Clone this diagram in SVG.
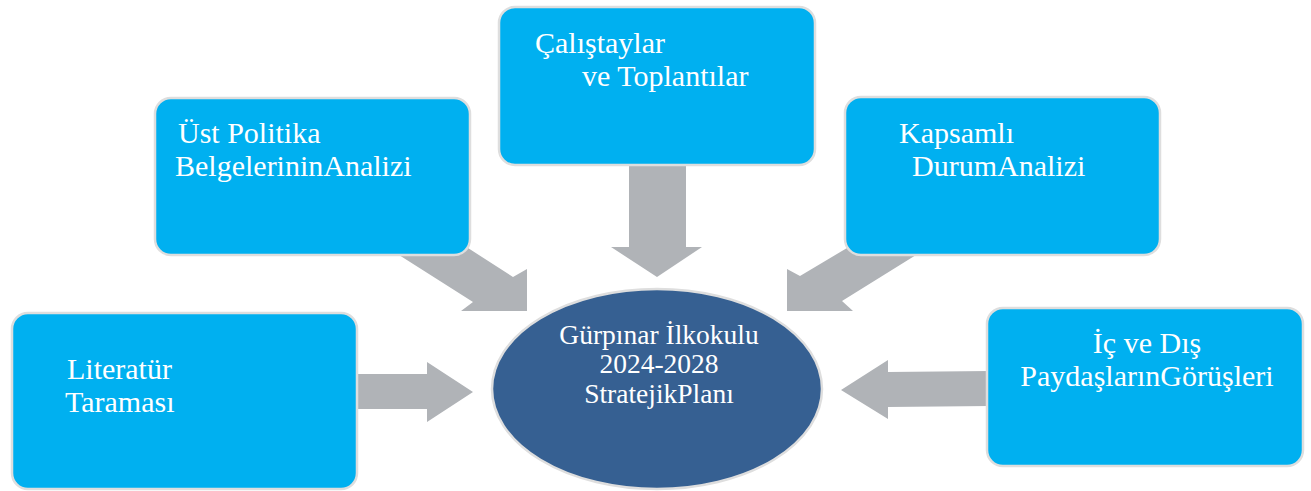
<svg xmlns="http://www.w3.org/2000/svg" width="1311" height="491" viewBox="0 0 1311 491">
<style>
.box{fill:#00b0f0;stroke:#dedede;stroke-width:2.5}
.ell{fill:#366092;stroke:#dedede;stroke-width:2.5}
.arr{fill:#b0b3b7}
.t{font-family:"Liberation Serif","Times New Roman",serif;font-size:30px;fill:#ffffff}
.c{font-family:"Liberation Serif","Times New Roman",serif;font-size:27.5px;fill:#ffffff;text-anchor:middle}
</style>
<rect width="1311" height="491" fill="#ffffff"/>
<g id="connectors">
  <polygon class="arr" points="629,160 686,160 686,247 702,247 657,277 611,247 629,247"/>
  <polygon class="arr" points="440,230 468,248 513,277 527,269 527,311 461,311 473,302 399,255 390,245"/>
  <polygon class="arr" points="875,230 847,248 800,276 787,269 787,311 853,311 842,301 916,255 925,240"/>
  <polygon class="arr" points="357,374 427,374 427,362 473,392 427,422 427,409 357,409"/>
  <polygon class="arr" points="990,371 888,372 888,360 841,390 888,419 888,407 990,406"/>
</g>
<g id="node-ust">
  <rect class="box" x="155" y="98" width="315" height="157" rx="16"/>
  <text class="t" x="178" y="143">Üst Politika</text>
  <text class="t" x="175" y="176">BelgelerininAnalizi</text>
</g>
<g id="node-calistay">
  <rect class="box" x="499" y="7" width="316" height="158" rx="16"/>
  <text class="t" x="535" y="53">Çalıştaylar</text>
  <text class="t" x="582" y="86">ve Toplantılar</text>
</g>
<g id="node-kapsamli">
  <rect class="box" x="845" y="97" width="315" height="158" rx="16"/>
  <text class="t" x="899" y="143">Kapsamlı</text>
  <text class="t" x="912" y="176">DurumAnalizi</text>
</g>
<g id="node-literatur">
  <rect class="box" x="12" y="313" width="345" height="176" rx="16"/>
  <text class="t" x="67" y="379">Literatür</text>
  <text class="t" x="65" y="412">Taraması</text>
</g>
<g id="node-paydas">
  <rect class="box" x="987" y="308" width="316" height="158" rx="16"/>
  <text class="t" x="1147" y="353" text-anchor="middle">İç ve Dış</text>
  <text class="t" x="1147" y="386" text-anchor="middle">PaydaşlarınGörüşleri</text>
</g>
<g id="node-plan">
  <ellipse class="ell" cx="657" cy="389" rx="165" ry="100"/>
  <text class="c" x="659" y="344">Gürpınar İlkokulu</text>
  <text class="c" x="659" y="373">2024-2028</text>
  <text class="c" x="659" y="403">StratejikPlanı</text>
</g>
</svg>
